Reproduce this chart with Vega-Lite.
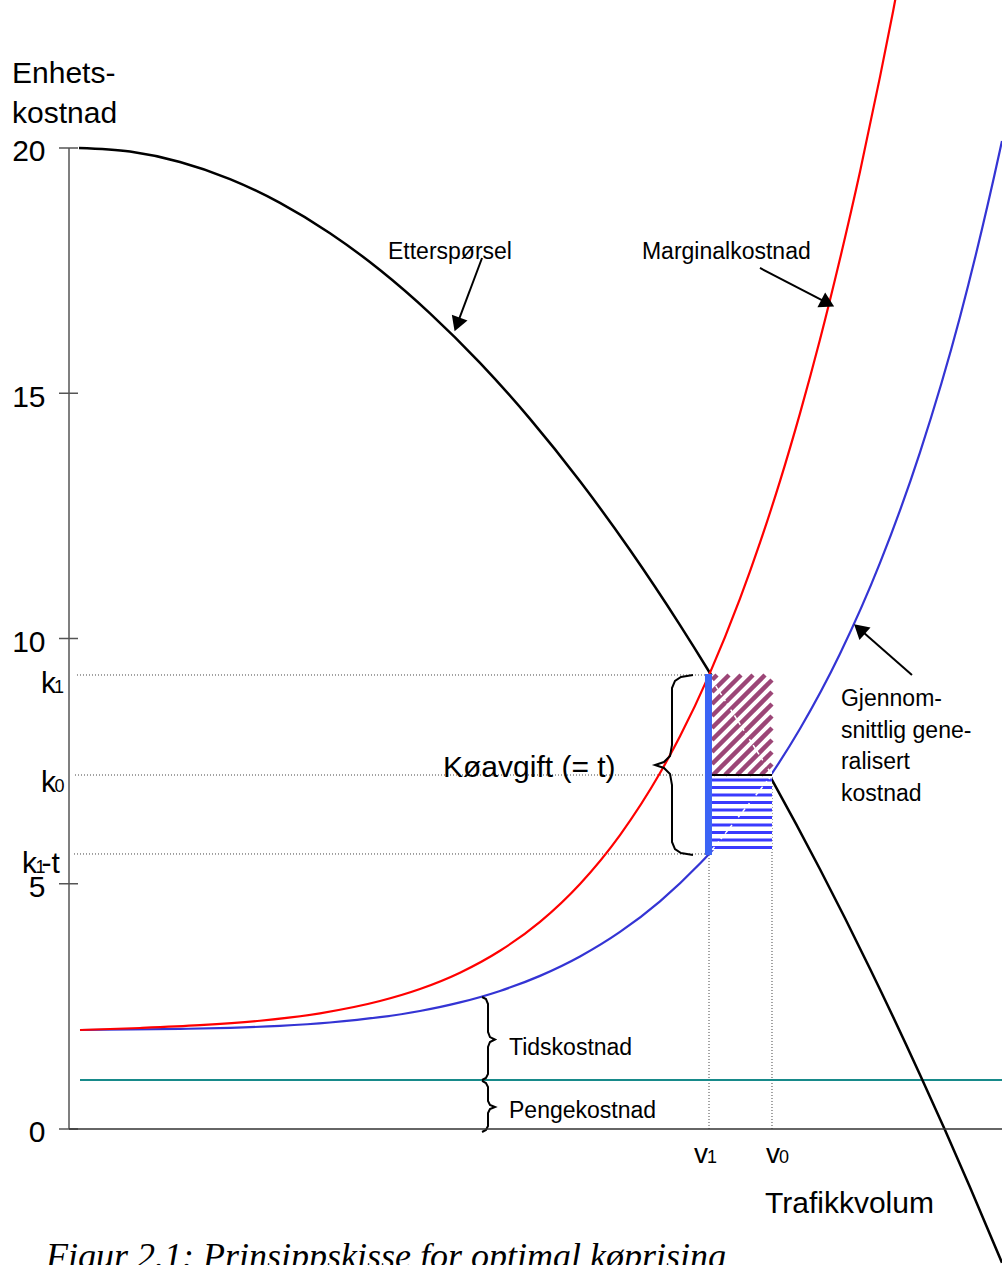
{
  "$schema": "https://vega.github.io/schema/vega-lite/v6.json",
  "width": 933,
  "height": 1265,
  "autosize": {"type": "none"},
  "padding": {"left": 69, "top": 0, "right": 0, "bottom": 0},
  "background": "white",
  "config": {"view": {"stroke": null}, "font": "Liberation Sans"},
  "datasets": {
    "demand": [
      {"x": 1.072, "y": 20.0}, {"x": 6.538, "y": 19.927}, {"x": 11.897, "y": 19.715}, {"x": 17.256, "y": 19.366},
      {"x": 22.615, "y": 18.881}, {"x": 27.974, "y": 18.263}, {"x": 33.333, "y": 17.513}, {"x": 38.692, "y": 16.63},
      {"x": 44.051, "y": 15.619}, {"x": 49.41, "y": 14.477}, {"x": 54.77, "y": 13.205}, {"x": 60.129, "y": 11.804},
      {"x": 65.488, "y": 10.273}, {"x": 68.596, "y": 9.327}, {"x": 71.919, "y": 8.265}, {"x": 75.348, "y": 7.117},
      {"x": 80.493, "y": 5.295}, {"x": 85.852, "y": 3.268}, {"x": 91.211, "y": 1.107}, {"x": 93.891, "y": -0.022},
      {"x": 96.57, "y": -1.187}, {"x": 100.0, "y": -2.728}
    ],
    "mc": [
      {"x": 1.179, "y": 2.018}, {"x": 7.61, "y": 2.059}, {"x": 14.041, "y": 2.116}, {"x": 20.472, "y": 2.207},
      {"x": 26.902, "y": 2.359}, {"x": 33.333, "y": 2.609}, {"x": 37.621, "y": 2.854}, {"x": 41.908, "y": 3.187},
      {"x": 46.195, "y": 3.634}, {"x": 50.482, "y": 4.224}, {"x": 54.77, "y": 4.997}, {"x": 59.057, "y": 5.993},
      {"x": 63.344, "y": 7.257}, {"x": 65.488, "y": 8.007}, {"x": 68.596, "y": 9.254}, {"x": 71.919, "y": 10.811},
      {"x": 74.062, "y": 11.953}, {"x": 76.206, "y": 13.208}, {"x": 78.349, "y": 14.59}, {"x": 80.493, "y": 16.094},
      {"x": 82.637, "y": 17.74}, {"x": 84.78, "y": 19.514}, {"x": 86.924, "y": 21.45}, {"x": 88.317, "y": 22.778},
      {"x": 90.139, "y": 24.62}
    ],
    "ac": [
      {"x": 1.179, "y": 2.018}, {"x": 6.538, "y": 2.029}, {"x": 11.897, "y": 2.041}, {"x": 17.256, "y": 2.063},
      {"x": 22.615, "y": 2.103}, {"x": 27.974, "y": 2.171}, {"x": 33.333, "y": 2.279}, {"x": 37.621, "y": 2.406},
      {"x": 41.908, "y": 2.581}, {"x": 46.195, "y": 2.815}, {"x": 50.482, "y": 3.122}, {"x": 54.77, "y": 3.517},
      {"x": 59.057, "y": 4.017}, {"x": 63.344, "y": 4.642}, {"x": 67.631, "y": 5.412}, {"x": 68.596, "y": 5.607},
      {"x": 71.919, "y": 6.353}, {"x": 75.348, "y": 7.25}, {"x": 78.349, "y": 8.16}, {"x": 82.637, "y": 9.688},
      {"x": 86.924, "y": 11.54}, {"x": 91.211, "y": 13.795}, {"x": 95.498, "y": 16.555}, {"x": 99.786, "y": 19.958},
      {"x": 100.0, "y": 20.145}
    ],
    "teal": [{"x": 1.179, "y": 1.0}, {"x": 100.0, "y": 1.0}],
    "dotted": [
      {"x": 0.857, "y": 9.256, "x2": 68.596, "y2": 9.256},
      {"x": 0.643, "y": 7.217, "x2": 75.348, "y2": 7.217},
      {"x": 0.536, "y": 5.607, "x2": 68.596, "y2": 5.607},
      {"x": 68.596, "y": 0, "x2": 68.596, "y2": 5.607},
      {"x": 75.348, "y": 0, "x2": 75.348, "y2": 7.217}
    ],
    "cover": [{"x": 68.917, "x2": 75.348, "y": 9.256, "y2": 5.688}],
    "hatch": [
      {"x": 68.917, "y": 9.154, "x2": 69.453, "y2": 9.256},
      {"x": 68.917, "y": 8.909, "x2": 70.74, "y2": 9.256},
      {"x": 68.917, "y": 8.665, "x2": 72.026, "y2": 9.256},
      {"x": 68.917, "y": 8.42, "x2": 73.312, "y2": 9.256},
      {"x": 68.917, "y": 8.175, "x2": 74.598, "y2": 9.256},
      {"x": 68.917, "y": 7.931, "x2": 75.348, "y2": 9.154},
      {"x": 68.917, "y": 7.686, "x2": 75.348, "y2": 8.909},
      {"x": 68.917, "y": 7.441, "x2": 75.348, "y2": 8.665},
      {"x": 69.025, "y": 7.217, "x2": 75.348, "y2": 8.42},
      {"x": 70.311, "y": 7.217, "x2": 75.348, "y2": 8.175},
      {"x": 71.597, "y": 7.217, "x2": 75.348, "y2": 7.931},
      {"x": 72.883, "y": 7.217, "x2": 75.348, "y2": 7.686},
      {"x": 74.169, "y": 7.217, "x2": 75.348, "y2": 7.441}
    ],
    "stripes": [
      {"x": 68.917, "x2": 75.348, "y": 7.115}, {"x": 68.917, "x2": 75.348, "y": 6.962},
      {"x": 68.917, "x2": 75.348, "y": 6.809}, {"x": 68.917, "x2": 75.348, "y": 6.657},
      {"x": 68.917, "x2": 75.348, "y": 6.504}, {"x": 68.917, "x2": 75.348, "y": 6.351},
      {"x": 68.917, "x2": 75.348, "y": 6.198}, {"x": 68.917, "x2": 75.348, "y": 6.045},
      {"x": 68.917, "x2": 75.348, "y": 5.892}, {"x": 68.917, "x2": 75.348, "y": 5.739}
    ],
    "whitedash": [
      {"x": 68.917, "y": 9.154, "x2": 75.348, "y2": 7.217},
      {"x": 68.917, "y": 5.688, "x2": 75.348, "y2": 7.217}
    ],
    "k0seg": [{"x": 68.49, "y": 7.217, "x2": 75.348, "y2": 7.217}],
    "bar": [{"x": 68.54, "y": 9.276, "x2": 68.54, "y2": 5.586}],
    "braces": [
      {"b": "t", "o": 1, "x": 66.88, "y": 9.256}, {"b": "t", "o": 2, "x": 65.59, "y": 9.215},
      {"b": "t", "o": 3, "x": 64.95, "y": 9.134}, {"b": "t", "o": 4, "x": 64.63, "y": 8.991},
      {"b": "t", "o": 5, "x": 64.63, "y": 7.829}, {"b": "t", "o": 6, "x": 64.42, "y": 7.604},
      {"b": "t", "o": 7, "x": 63.77, "y": 7.482}, {"b": "t", "o": 8, "x": 62.81, "y": 7.421},
      {"b": "t", "o": 9, "x": 63.77, "y": 7.36}, {"b": "t", "o": 10, "x": 64.42, "y": 7.237},
      {"b": "t", "o": 11, "x": 64.63, "y": 7.013}, {"b": "t", "o": 12, "x": 64.63, "y": 5.851},
      {"b": "t", "o": 13, "x": 64.95, "y": 5.708}, {"b": "t", "o": 14, "x": 65.59, "y": 5.627},
      {"b": "t", "o": 15, "x": 66.88, "y": 5.586},
      {"b": "tid", "o": 1, "x": 44.27, "y": 2.691}, {"b": "tid", "o": 2, "x": 44.69, "y": 2.65},
      {"b": "tid", "o": 3, "x": 44.91, "y": 2.548}, {"b": "tid", "o": 4, "x": 44.91, "y": 1.978},
      {"b": "tid", "o": 5, "x": 45.12, "y": 1.875}, {"b": "tid", "o": 6, "x": 45.66, "y": 1.825},
      {"b": "tid", "o": 7, "x": 45.12, "y": 1.774}, {"b": "tid", "o": 8, "x": 44.91, "y": 1.672},
      {"b": "tid", "o": 9, "x": 44.91, "y": 1.121}, {"b": "tid", "o": 10, "x": 44.69, "y": 1.04},
      {"b": "tid", "o": 11, "x": 44.27, "y": 0.999},
      {"b": "pen", "o": 1, "x": 44.27, "y": 0.979}, {"b": "pen", "o": 2, "x": 44.69, "y": 0.938},
      {"b": "pen", "o": 3, "x": 44.91, "y": 0.856}, {"b": "pen", "o": 4, "x": 44.91, "y": 0.571},
      {"b": "pen", "o": 5, "x": 45.12, "y": 0.489}, {"b": "pen", "o": 6, "x": 45.66, "y": 0.449},
      {"b": "pen", "o": 7, "x": 45.12, "y": 0.408}, {"b": "pen", "o": 8, "x": 44.91, "y": 0.326},
      {"b": "pen", "o": 9, "x": 44.91, "y": 0.061}, {"b": "pen", "o": 10, "x": 44.69, "y": -0.02},
      {"b": "pen", "o": 11, "x": 44.27, "y": -0.061}
    ],
    "arrows": [
      {"x": 44.27, "y": 17.757, "x2": 41.6, "y2": 16.404},
      {"x": 74.06, "y": 17.554, "x2": 81.32, "y2": 16.836},
      {"x": 90.35, "y": 9.256, "x2": 84.73, "y2": 10.194}
    ],
    "head1": [{"x": 41.6, "y": 16.404}],
    "head2": [{"x": 81.32, "y": 16.836}],
    "head3": [{"x": 84.73, "y": 10.194}],
    "ticks": [
      {"x": -1.072, "x2": 0.965, "y": 0}, {"x": -1.072, "x2": 0.965, "y": 5},
      {"x": -1.072, "x2": 0.965, "y": 10}, {"x": -1.072, "x2": 0.965, "y": 15},
      {"x": -1.072, "x2": 0.965, "y": 20}
    ],
    "yaxis": [{"x": 0, "x2": 0, "y": 0, "y2": 20}],
    "xaxis": [{"x": 0, "x2": 100, "y": 0, "y2": 0}],
    "big": [
      {"x": -6.109, "y": 21.325, "t": "Enhets-"},
      {"x": -6.109, "y": 20.516, "t": "kostnad"},
      {"x": 40.09, "y": 7.176, "t": "Køavgift (= t)"},
      {"x": 74.6, "y": -1.713, "t": "Trafikkvolum"},
      {"x": -3.001, "y": 8.889, "t": "k"},
      {"x": -3.001, "y": 6.87, "t": "k"},
      {"x": -5.038, "y": 5.219, "t": "k"},
      {"x": -2.947, "y": 5.219, "t": "-t"}
    ],
    "vlab": [
      {"x": 66.988, "y": -0.693, "t": "v"},
      {"x": 74.705, "y": -0.693, "t": "v"}
    ],
    "mid": [
      {"x": 34.19, "y": 17.737, "t": "Etterspørsel"},
      {"x": 61.41, "y": 17.737, "t": "Marginalkostnad"},
      {"x": 82.74, "y": 8.63, "t": "Gjennom-"},
      {"x": 82.74, "y": 7.978, "t": "snittlig gene-"},
      {"x": 82.74, "y": 7.333, "t": "ralisert"},
      {"x": 82.74, "y": 6.687, "t": "kostnad"},
      {"x": 47.16, "y": 1.509, "t": "Tidskostnad"},
      {"x": 47.16, "y": 0.224, "t": "Pengekostnad"}
    ],
    "subs": [
      {"x": -1.608, "y": 8.889, "t": "1"},
      {"x": -1.55, "y": 6.87, "t": "0"},
      {"x": -3.59, "y": 5.219, "t": "1"},
      {"x": 68.381, "y": -0.693, "t": "1"},
      {"x": 76.099, "y": -0.693, "t": "0"}
    ],
    "caption": [{"x": -2.465, "y": -2.834, "t": "Figur 2.1: Prinsippskisse for optimal køprising"}]
  },
  "encoding": {
    "x": {"field": "x", "type": "quantitative", "scale": {"domain": [0, 100], "nice": false, "zero": false}, "axis": null},
    "y": {
      "field": "y", "type": "quantitative",
      "scale": {"domain": [-2.7727, 23.0173], "nice": false, "zero": false},
      "axis": {
        "values": [0, 5, 10, 15, 20], "domain": false, "ticks": false, "grid": false, "title": null,
        "labelFontSize": 30, "labelFont": "Liberation Sans", "labelColor": "#000000", "labelPadding": 24,
        "labelFlush": false, "labelOverlap": false, "labelBound": false, "labelOffset": 4, "format": "d"
      }
    }
  },
  "layer": [
    {"data": {"name": "dotted"}, "mark": {"type": "rule", "color": "#444444", "strokeWidth": 1, "strokeDash": [1, 2]},
     "encoding": {"x2": {"field": "x2"}, "y2": {"field": "y2"}}},
    {"data": {"name": "teal"}, "mark": {"type": "line", "color": "#178a8a", "strokeWidth": 2}, "encoding": {}},
    {"data": {"name": "demand"}, "mark": {"type": "line", "color": "#000000", "strokeWidth": 2.5, "interpolate": "monotone"}, "encoding": {}},
    {"data": {"name": "ac"}, "mark": {"type": "line", "color": "#3434d4", "strokeWidth": 2.2, "interpolate": "monotone"}, "encoding": {}},
    {"data": {"name": "mc"}, "mark": {"type": "line", "color": "#ff0000", "strokeWidth": 2.2, "interpolate": "monotone"}, "encoding": {}},
    {"data": {"name": "cover"}, "mark": {"type": "rect", "color": "#ffffff", "opacity": 1},
     "encoding": {"x2": {"field": "x2"}, "y2": {"field": "y2"}}},
    {"data": {"name": "hatch"}, "mark": {"type": "rule", "color": "#9c4677", "strokeWidth": 4.5},
     "encoding": {"x2": {"field": "x2"}, "y2": {"field": "y2"}}},
    {"data": {"name": "stripes"}, "mark": {"type": "rule", "color": "#3a3aff", "strokeWidth": 3},
     "encoding": {"x2": {"field": "x2"}}},
    {"data": {"name": "whitedash"}, "mark": {"type": "rule", "color": "#ffffff", "strokeWidth": 1.5, "strokeDash": [4, 3]},
     "encoding": {"x2": {"field": "x2"}, "y2": {"field": "y2"}}},
    {"data": {"name": "k0seg"}, "mark": {"type": "rule", "color": "#000000", "strokeWidth": 2},
     "encoding": {"x2": {"field": "x2"}, "y2": {"field": "y2"}}},
    {"data": {"name": "bar"}, "mark": {"type": "rule", "color": "#3b64f5", "strokeWidth": 7},
     "encoding": {"x2": {"field": "x2"}, "y2": {"field": "y2"}}},
    {"data": {"name": "braces"}, "mark": {"type": "line", "color": "#000000", "strokeWidth": 2},
     "encoding": {"detail": {"field": "b"}, "order": {"field": "o"}}},
    {"data": {"name": "arrows"}, "mark": {"type": "rule", "color": "#000000", "strokeWidth": 2},
     "encoding": {"x2": {"field": "x2"}, "y2": {"field": "y2"}}},
    {"data": {"name": "head1"}, "mark": {"type": "point", "shape": "triangle-up", "filled": true, "color": "#000000", "opacity": 1, "size": 280, "angle": 200.6}, "encoding": {}},
    {"data": {"name": "head2"}, "mark": {"type": "point", "shape": "triangle-up", "filled": true, "color": "#000000", "opacity": 1, "size": 280, "angle": 117.5}, "encoding": {}},
    {"data": {"name": "head3"}, "mark": {"type": "point", "shape": "triangle-up", "filled": true, "color": "#000000", "opacity": 1, "size": 280, "angle": 311.3}, "encoding": {}},
    {"data": {"name": "ticks"}, "mark": {"type": "rule", "color": "#555555", "strokeWidth": 1.5}, "encoding": {"x2": {"field": "x2"}}},
    {"data": {"name": "yaxis"}, "mark": {"type": "rule", "color": "#555555", "strokeWidth": 1.5}, "encoding": {"y2": {"field": "y2"}}},
    {"data": {"name": "xaxis"}, "mark": {"type": "rule", "color": "#333333", "strokeWidth": 1.5}, "encoding": {"x2": {"field": "x2"}}},
    {"data": {"name": "big"}, "mark": {"type": "text", "align": "left", "baseline": "alphabetic", "fontSize": 30, "font": "Liberation Sans", "color": "#000000"},
     "encoding": {"text": {"field": "t"}}},
    {"data": {"name": "vlab"}, "mark": {"type": "text", "align": "left", "baseline": "alphabetic", "fontSize": 28, "font": "Liberation Sans", "color": "#000000"},
     "encoding": {"text": {"field": "t"}}},
    {"data": {"name": "mid"}, "mark": {"type": "text", "align": "left", "baseline": "alphabetic", "fontSize": 23, "font": "Liberation Sans", "color": "#000000"},
     "encoding": {"text": {"field": "t"}}},
    {"data": {"name": "subs"}, "mark": {"type": "text", "align": "left", "baseline": "alphabetic", "fontSize": 18, "font": "Liberation Sans", "color": "#000000"},
     "encoding": {"text": {"field": "t"}}},
    {"data": {"name": "caption"}, "mark": {"type": "text", "align": "left", "baseline": "alphabetic", "fontSize": 36, "font": "Liberation Serif", "fontStyle": "italic", "color": "#000000"},
     "encoding": {"text": {"field": "t"}}}
  ]
}
